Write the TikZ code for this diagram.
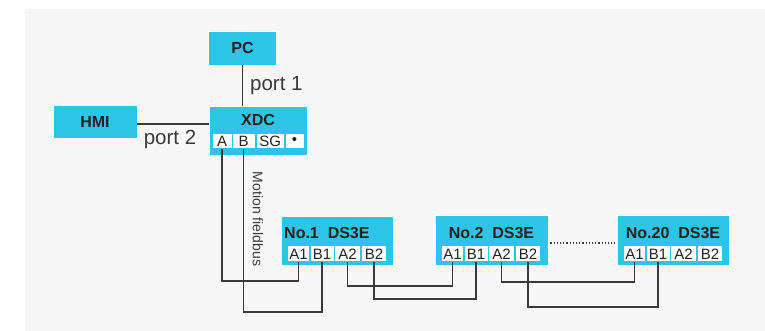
\documentclass[tikz,border=0pt]{standalone}
\usepackage{fontspec}
\setmainfont{Liberation Sans}
\usetikzlibrary{positioning}

\definecolor{boxblue}{RGB}{46,196,230}
\definecolor{bggray}{RGB}{247,247,247}
\definecolor{ink}{RGB}{34,34,34}
\definecolor{wire}{RGB}{58,58,58}

\begin{document}
\begin{tikzpicture}[x=1pt,y=-1pt,
  unit/.style={fill=boxblue,draw=white,line width=0.8pt,inner sep=0pt},
  title/.style={text=ink,font=\fontsize{16}{16}\selectfont\bfseries,inner sep=0pt},
  cell/.style={fill=white,text=ink,inner sep=0pt,minimum height=15pt,font=\fontsize{15}{15}\selectfont},
  lbl/.style={text=wire,inner sep=0pt,font=\fontsize{20.5}{20.5}\selectfont},
  bus/.style={draw=wire,line width=1.3pt}]
  \useasboundingbox (0,0) rectangle (765,331);
  \fill[bggray] (25,9) rectangle (765,331);

  % PC, HMI and controller
  \node[unit,minimum width=68pt,minimum height=34pt] (pc) at (242.5,48) {};
  \node[title] at (pc) {PC};
  \node[unit,minimum width=84pt,minimum height=33pt] (hmi) at (95,121.5) {};
  \node[title] at (hmi) {HMI};
  \node[unit,minimum width=98pt,minimum height=49pt] (xdc) at (258,130.5) {};
  \node[title] (xdct) at ([yshift=-14pt]xdc.north) {XDC};
  \foreach \c/\dx/\w in {A/13.5/19,B/35/22,SG/61.5/27}
    \node[cell,minimum width=\w pt,minimum height=14pt] (x\c) at ([xshift=\dx pt,yshift=14pt]xdc.south west) {\c};
  \node[cell,minimum width=18pt,minimum height=14pt] (xdot) at ([xshift=86pt,yshift=14pt]xdc.south west) {\textbullet};

  % drives
  \node[unit,minimum width=112pt,minimum height=49pt] (n1) at (337,240.5) {};
  \node[unit,minimum width=113pt,minimum height=50pt] (n2) at (491.5,240) {};
  \node[unit,minimum width=112pt,minimum height=50pt] (n20) at (673,240) {};
  \node[title,anchor=west] at (284,233) {No.1\ \ DS3E};
  \node[title] at ([yshift=-18pt]n2.north) {No.2\ \ DS3E};
  \node[title] at ([yshift=-18pt]n20.north) {No.20\ \ DS3E};
  \foreach \b in {n1,n2,n20}
    \foreach \c/\dx/\w in {A1/18/21,B1/41.5/23,A2/67/25,B2/93.5/24}
      \node[cell,minimum width=\w pt] (\b\c) at ([xshift=\dx pt,yshift=11.5pt]\b.south west) {\c};

  % ports
  \draw[bus] (pc.south) -- (pc.south |- xdc.north);
  \node[lbl,anchor=west] (port1) at (250,86) {port 1};
  \draw[bus] (hmi.east |- 0,124) -- (xdc.west |- 0,124);
  \node[lbl] (port2) at (170,139) {port 2};

  % fieldbus wiring
  \draw[bus] (xA.south) -- (xA.south |- 0,281) -| (n1A1.south);
  \draw[bus] (xB.south) -- (xB.south |- 0,312) -| (n1B1.south);
  \draw[bus] (n1A2.south) -- (n1A2.south |- 0,286) -| (n2A1.south);
  \draw[bus] (n1B2.south) -- (n1B2.south |- 0,299) -| (n2B1.south);
  \draw[bus] (n2A2.south) -- (n2A2.south |- 0,282) -| (n20A1.south);
  \draw[bus] (n2B2.south) -- (n2B2.south |- 0,307) -| (n20B1.south);
  \draw[wire,line width=1.2pt,dotted] ([xshift=2pt]n2.east |- 0,243) -- ([xshift=-2pt]n20.west |- 0,243);
  \node[lbl,rotate=-90,font=\fontsize{14}{14}\selectfont] (fb) at (258,219) {Motion fieldbus};
\end{tikzpicture}
\end{document}
